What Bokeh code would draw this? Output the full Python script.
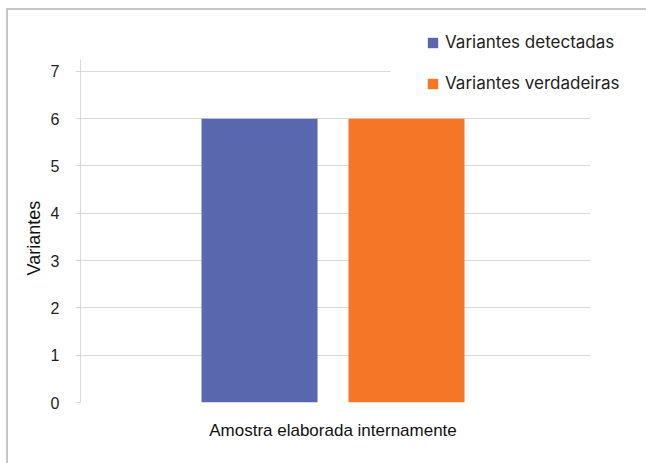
from bokeh.plotting import figure
from bokeh.models import (Range1d, FixedTicker, Legend, LegendItem,
                          ColumnDataSource, BoxAnnotation, Title)
from bokeh.transform import dodge
from bokeh.embed import file_html
from bokeh.resources import INLINE

# ---- data ----
categories = ["Amostra elaborada internamente"]
series_names = ["Variantes detectadas", "Variantes verdadeiras"]
detectadas = [6]
verdadeiras = [6]
y_ticks = [0, 1, 2, 3, 4, 5, 6, 7]
y_label = "Variantes"

colors = ["#5967AE", "#F57627"]

cat_pos = list(range(len(categories)))
src = ColumnDataSource(dict(x=cat_pos, det=detectadas, ver=verdadeiras))

p = figure(width=646, height=463, output_backend="svg", toolbar_location=None,
           x_range=Range1d(-0.4951, 0.6147), y_range=Range1d(0, 8.076),
           min_border_left=80, min_border_right=0, min_border_top=20,
           min_border_bottom=61)
p.outline_line_color = None
p.background_fill_color = "white"
p.border_fill_alpha = 0.0
p.styles = {"background-color": "white",
            "box-shadow": "inset 6px 8px 0 0 white, inset 8px 10px 0 0 #c6c6c6"}

r1 = p.vbar(x=dodge("x", -0.1441), top="det", width=0.2275,
            source=src, fill_color=colors[0], line_color=None)
r2 = p.vbar(x=dodge("x", 0.1441), top="ver", width=0.2275,
            source=src, fill_color=colors[1], line_color=None)

# y axis
p.yaxis.ticker = FixedTicker(ticks=y_ticks)
p.yaxis.bounds = (0, 7.25)
p.yaxis.minor_tick_line_color = None
p.yaxis.axis_line_color = "#d9d9d9"
p.yaxis.major_tick_line_color = "#d9d9d9"
p.yaxis.major_tick_in = 0
p.yaxis.major_tick_out = 5
p.yaxis.major_label_standoff = 16
p.yaxis.major_label_text_font = "Liberation Sans"
p.yaxis.major_label_text_font_size = "16px"
p.yaxis.major_label_text_color = "#222222"

# y axis title, placed along the plotted value range
ytitle = Title(text=y_label, align="left", offset=127, standoff=8,
               text_font="Liberation Sans", text_font_size="18px",
               text_font_style="normal", text_color="#111111")
p.add_layout(ytitle, "left")

# x axis (category labels)
p.xaxis.ticker = FixedTicker(ticks=cat_pos)
p.xaxis.major_label_overrides = {i: c for i, c in zip(cat_pos, categories)}
p.xaxis.axis_line_color = None
p.xaxis.major_tick_line_color = None
p.xaxis.minor_tick_line_color = None
p.xaxis.major_label_standoff = 12
p.xaxis.major_label_text_font = "Liberation Sans"
p.xaxis.major_label_text_font_size = "17px"
p.xaxis.major_label_text_color = "#111111"

p.xgrid.grid_line_color = None
p.ygrid.grid_line_color = "#d9d9d9"
p.ygrid.grid_line_width = 1

# white masks: grid ends at the plot's right edge, and behind the legend
p.add_layout(BoxAnnotation(left=0.5049, fill_color="white", fill_alpha=1.0,
                           line_color=None))
p.add_layout(BoxAnnotation(left=0.1127, bottom=6.5, fill_color="white", fill_alpha=1.0,
                           line_color=None))

legend = Legend(items=[LegendItem(label=series_names[0], renderers=[r1]),
                       LegendItem(label=series_names[1], renderers=[r2])],
                location=(346, 309), orientation="vertical")
legend.label_text_font = "Inter"
legend.label_text_font_size = "17px"
legend.label_text_color = "#222222"
legend.glyph_width = 13
legend.glyph_height = 13
legend.label_height = 20
legend.label_standoff = 6
legend.spacing = 21
legend.padding = 8
legend.margin = 0
legend.border_line_color = None
legend.background_fill_color = "white"
legend.background_fill_alpha = 1.0
p.add_layout(legend)

open("out.html", "w").write(file_html(p, INLINE))
